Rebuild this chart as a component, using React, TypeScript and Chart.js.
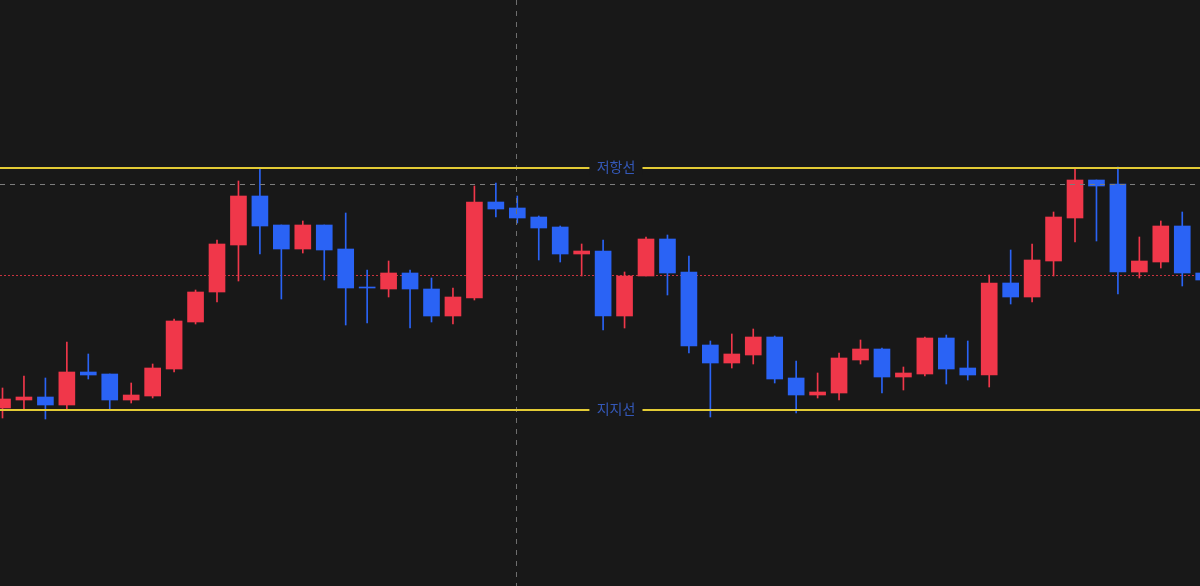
import React, { useEffect, useRef } from "react";
import { Chart, registerables } from "chart.js";

Chart.register(...registerables);

// OHLC values per session (price units)
const opens = [
  17800, 18600, 18900, 18100, 21400, 21200, 18600, 19000, 21700, 26400,
  29400, 34100, 39000, 36100, 33700, 36100, 33700, 29900, 29700, 31300,
  29700, 27000, 28800, 38400, 37800, 36900, 35900, 33200, 33500, 27000,
  31000, 34700, 31400, 24100, 22300, 23100, 24900, 20800, 19100, 19300,
  22600, 23700, 20900, 21200, 24800, 21800, 21100, 30300, 28900, 32500,
  36800, 40600, 40200, 31400, 32400, 36000, 31300,
];
const closes = [
  18700, 18900, 18100, 21400, 21100, 18600, 19100, 21800, 26500, 29400,
  34200, 39000, 36000, 33700, 36100, 33600, 29800, 29800, 31300, 29700,
  27000, 28900, 38400, 37700, 36800, 35800, 33200, 33500, 27000, 31000,
  34700, 31300, 24000, 22300, 23200, 24900, 20700, 19100, 19400, 22800,
  23700, 20900, 21300, 24800, 21700, 21100, 30300, 28900, 32600, 36900,
  40600, 40000, 31400, 32500, 36000, 31300, 30600,
];
const highs = [
  19800, 21000, 20800, 24400, 23200, 21200, 20300, 22200, 26700, 29600,
  34600, 40500, 41800, 36100, 36500, 36100, 37300, 31600, 32500, 31600,
  30800, 29800, 40000, 40300, 39000, 37000, 36000, 34200, 34600, 31400,
  34900, 35100, 33000, 24500, 25200, 25700, 25000, 22500, 21300, 23300,
  24600, 23800, 21900, 24900, 25100, 24500, 31100, 33600, 34200, 37400,
  41700, 40600, 41900, 34900, 36500, 37400, 31600,
];
const lows = [
  16800, 17700, 16700, 17600, 20700, 17600, 18300, 18800, 21400, 26200,
  28400, 30500, 33200, 28700, 33300, 30600, 26100, 26300, 28900, 25800,
  26400, 26200, 28600, 36900, 36300, 32600, 32400, 31000, 25600, 25800,
  31000, 29100, 23300, 16900, 21800, 22200, 20300, 17300, 18800, 18600,
  22200, 19300, 19600, 21000, 20200, 20600, 19900, 28200, 28400, 31000,
  34400, 34500, 29200, 30800, 31800, 30000, 30400,
];

const resistanceLevel = 41800;
const supportLevel = 17600;
const resistanceLabel = "저항선";
const supportLabel = "지지선";
const lastHighLevel = 40200;
const currentLevel = 31100;
const crosshairIndex = 24;

const UP = "#f0374a";
const DOWN = "#2a63f5";
const BG = "#181818";

export default function App() {
  const ref = useRef<HTMLCanvasElement>(null);

  useEffect(() => {
    const colors = opens.map((o, i) => (closes[i] > o ? UP : DOWN));
    const wickData = lows.map((l, i) => ({ x: i, y: [l, highs[i]] }));
    const bodyData = opens.map((o, i) => ({ x: i, y: [o, closes[i]] }));

    const overlay = {
      id: "overlay",
      beforeDraw(chart: any) {
        const { ctx, width, height } = chart;
        ctx.save();
        ctx.fillStyle = BG;
        ctx.fillRect(0, 0, width, height);
        ctx.restore();
      },
      beforeDatasetsDraw(chart: any) {
        const { ctx, chartArea } = chart;
        const ys = chart.scales.y;
        ctx.save();
        // current price dotted line
        const cy = Math.round(ys.getPixelForValue(currentLevel)) + 0.5;
        ctx.strokeStyle = "#c8323f";
        ctx.lineWidth = 1;
        ctx.setLineDash([2, 2]);
        ctx.beginPath();
        ctx.moveTo(chartArea.left, cy);
        ctx.lineTo(chartArea.right, cy);
        ctx.stroke();
        ctx.restore();
      },
      afterDatasetsDraw(chart: any) {
        const { ctx, chartArea } = chart;
        const xs = chart.scales.x;
        const ys = chart.scales.y;
        ctx.save();
        // horizontal dashed at last high
        const hy = Math.round(ys.getPixelForValue(lastHighLevel)) + 0.5;
        ctx.strokeStyle = "#7c7c7c";
        ctx.lineWidth = 1;
        ctx.setLineDash([5, 5]);
        ctx.beginPath();
        ctx.moveTo(chartArea.left, hy);
        ctx.lineTo(chartArea.right, hy);
        ctx.stroke();
        // vertical crosshair
        const vx = Math.round(xs.getPixelForValue(crosshairIndex)) - 0.5;
        ctx.strokeStyle = "#6e6e6e";
        ctx.setLineDash([5, 6]);
        ctx.beginPath();
        ctx.moveTo(vx, chartArea.top);
        ctx.lineTo(vx, chartArea.bottom);
        ctx.stroke();
        ctx.setLineDash([]);

        // support / resistance lines with labels
        const labelX = xs.getPixelForValue(28.6);
        ctx.font = '14px "Noto Sans CJK KR", "Noto Sans", sans-serif';
        const drawLevel = (value: number, text: string) => {
          const y = ys.getPixelForValue(value);
          const tw = ctx.measureText(text).width;
          const gapL = labelX - tw / 2 - 7;
          const gapR = labelX + tw / 2 + 7;
          ctx.strokeStyle = "#e3cb35";
          ctx.lineWidth = 2;
          ctx.beginPath();
          ctx.moveTo(chartArea.left, y);
          ctx.lineTo(gapL, y);
          ctx.moveTo(gapR, y);
          ctx.lineTo(chartArea.right, y);
          ctx.stroke();
          ctx.fillStyle = BG;
          ctx.fillRect(gapL, y - 9, gapR - gapL, 16);
          ctx.fillStyle = "#3458b8";
          ctx.textAlign = "center";
          ctx.textBaseline = "middle";
          ctx.fillText(text, labelX, y - 1);
        };
        drawLevel(resistanceLevel, resistanceLabel);
        drawLevel(supportLevel, supportLabel);
        ctx.restore();
      },
    };

    const chart = new Chart(ref.current!, {
      type: "bar",
      data: {
        datasets: [
          {
            label: "wick",
            data: wickData as any,
            backgroundColor: colors,
            barThickness: 1,
            grouped: false,
            order: 2,
            borderWidth: 0,
          } as any,
          {
            label: "body",
            data: bodyData as any,
            backgroundColor: colors,
            barThickness: 16,
            grouped: false,
            order: 1,
            borderWidth: 0,
            minBarLength: 1,
          } as any,
        ],
      },
      options: {
        animation: false,
        responsive: true,
        maintainAspectRatio: false,
        layout: { padding: 0 },
        plugins: {
          legend: { display: false },
          tooltip: { enabled: false },
        },
        scales: {
          x: {
            type: "linear",
            min: -0.1166,
            max: 55.827,
            offset: false,
            display: false,
          },
          y: {
            type: "linear",
            min: 0,
            max: 58600,
            display: false,
          },
        },
      },
      plugins: [overlay],
    });
    return () => chart.destroy();
  }, []);

  return (
    <div
      style={{
        position: "fixed",
        left: 0,
        top: 0,
        width: 1200,
        height: 586,
        background: BG,
      }}
    >
      <canvas ref={ref} />
    </div>
  );
}
